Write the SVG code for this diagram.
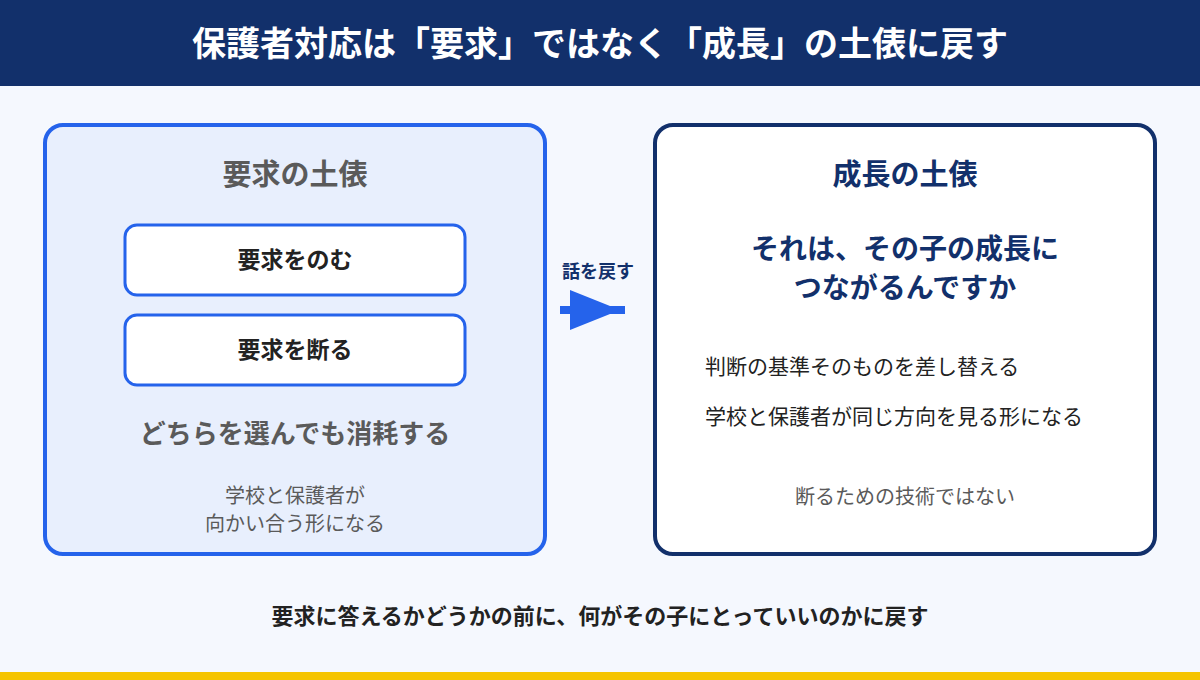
<svg xmlns="http://www.w3.org/2000/svg" width="1200" height="680" viewBox="0 0 1200 680">
<style>
text{font-family:"Noto Sans CJK JP","Noto Sans",sans-serif;text-anchor:middle}
.b{font-weight:700}
.opt{fill:#fff;stroke:#2563eb;stroke-width:3}
</style>
<rect width="1200" height="680" fill="#f5f8fe"/>
<rect width="1200" height="86" fill="#12306b"/>
<text x="600" y="56" font-size="34" class="b" fill="#fff">保護者対応は「要求」ではなく「成長」の土俵に戻す</text>
<rect y="672" width="1200" height="8" fill="#f5c400"/>
<g id="left">
<rect x="45" y="125" width="500" height="429" rx="18" fill="#e8effd" stroke="#2563eb" stroke-width="4"/>
<text x="295" y="185" font-size="29" class="b" fill="#5a5a5a">要求の土俵</text>
</g>
<g id="opt1"><rect class="opt" x="125" y="225" width="340" height="70" rx="12"/>
<text x="295" y="268" font-size="23" class="b" fill="#222">要求をのむ</text></g>
<g id="opt2"><rect class="opt" x="125" y="315" width="340" height="70" rx="12"/>
<text x="295" y="358" font-size="23" class="b" fill="#222">要求を断る</text></g>
<text x="295" y="443" font-size="26" class="b" fill="#5a5a5a">どちらを選んでも消耗する</text>
<text x="295" y="503" font-size="20" fill="#5a5a5a">学校と保護者が</text>
<text x="295" y="531" font-size="20" fill="#5a5a5a">向かい合う形になる</text>
<g id="connectors">
<text x="598" y="278" font-size="18" class="b" fill="#12306b">話を戻す</text>
<rect x="560" y="306" width="65" height="8" fill="#2563eb"/>
<polygon points="570,290 620,310 570,330" fill="#2563eb"/>
</g>
<g id="right">
<rect x="655" y="125" width="500" height="429" rx="18" fill="#fff" stroke="#12306b" stroke-width="4"/>
<text x="905" y="185" font-size="29" class="b" fill="#12306b">成長の土俵</text>
<text x="905" y="259" font-size="28" class="b" fill="#12306b">それは、その子の成長に</text>
<text x="905" y="298" font-size="28" class="b" fill="#12306b">つながるんですか</text>
<text x="705" y="374" font-size="21" fill="#222" style="text-anchor:start">判断の基準そのものを差し替える</text>
<text x="705" y="424" font-size="21" fill="#222" style="text-anchor:start">学校と保護者が同じ方向を見る形になる</text>
<text x="905" y="504" font-size="20" fill="#5a5a5a">断るための技術ではない</text>
</g>
<text x="600" y="624" font-size="22" class="b" fill="#222">要求に答えるかどうかの前に、何がその子にとっていいのかに戻す</text>
</svg>
